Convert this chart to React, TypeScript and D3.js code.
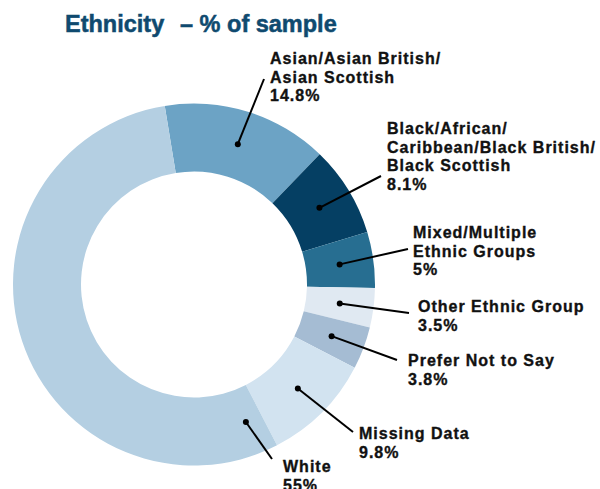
import React from "react";
import * as d3 from "d3";

const categories = [
  "Asian/Asian British/Asian Scottish",
  "Black/African/Caribbean/Black British/Black Scottish",
  "Mixed/Multiple Ethnic Groups",
  "Other Ethnic Group",
  "Prefer Not to Say",
  "Missing Data",
  "White",
];
const values = [14.8, 8.1, 5, 3.5, 3.8, 9.8, 55];
const valueLabels = ["14.8%", "8.1%", "5%", "3.5%", "3.8%", "9.8%", "55%"];
const labelLines = [
  ["Asian/Asian British/", "Asian Scottish"],
  ["Black/African/", "Caribbean/Black British/", "Black Scottish"],
  ["Mixed/Multiple", "Ethnic Groups"],
  ["Other Ethnic Group"],
  ["Prefer Not to Say"],
  ["Missing Data"],
  ["White"],
];
const colors = ["#6ca3c5", "#053f63", "#276e91", "#e0e9f2", "#a5bcd3", "#d2e3f0", "#b4cfe2"];

// label layout: text anchor (first baseline) and leader end point
const labelLayout = [
  { x: 270, y: 64, lx: 264, ly: 79 },
  { x: 387, y: 134, lx: 381, ly: 176 },
  { x: 413, y: 238, lx: 408, ly: 249 },
  { x: 418, y: 312, lx: 409, ly: 313 },
  { x: 408, y: 366, lx: 397, ly: 360 },
  { x: 359, y: 439, lx: 353, ly: 432 },
  { x: 283, y: 472, lx: 272, ly: 459 },
];
// dot position as fraction within slice (0.5 = centroid)
const dotFraction = [0.5, 0.5, 0.5, 0.5, 0.5, 0.5, 0.0335];

const W = 600;
const H = 489;
const cx = 194;
const cy = 284.5;
const rOuter = 181;
const rInner = 113;
const startDeg = -9.3;
const lineH = 18.5;

export default function App() {
  const pie = d3
    .pie<number>()
    .sort(null)
    .value((d) => d)
    .startAngle((startDeg * Math.PI) / 180)
    .endAngle((startDeg * Math.PI) / 180 + 2 * Math.PI);
  const arcs = pie(values);
  const arc = d3.arc<d3.PieArcDatum<number>>().innerRadius(rInner).outerRadius(rOuter);
  const rMid = (rInner + rOuter) / 2;

  const font = "'Liberation Sans', Arial, sans-serif";

  return (
    <svg width={W} height={H} style={{ position: "absolute", left: 0, top: 0 }}>
      <rect width={W} height={H} fill="#ffffff" />
      <text
        x={65}
        y={32}
        fontFamily={font}
        fontWeight="bold"
        fontSize={23.5}
        fill="#0f4a6f"
        stroke="#0f4a6f"
        strokeWidth={0.5}
      >
        <tspan>Ethnicity</tspan>
        <tspan x={180}>– % of sample</tspan>
      </text>
      <g transform={`translate(${cx},${cy})`}>
        {arcs.map((a, i) => (
          <path key={categories[i]} d={arc(a) || ""} fill={colors[i]} />
        ))}
      </g>
      {arcs.map((a, i) => {
        const ang = a.startAngle + (a.endAngle - a.startAngle) * dotFraction[i];
        const dx = cx + rMid * Math.sin(ang);
        const dy = cy - rMid * Math.cos(ang);
        const L = labelLayout[i];
        const lines = [...labelLines[i], valueLabels[i]];
        return (
          <g key={"lab" + i}>
            <line x1={dx} y1={dy} x2={L.lx} y2={L.ly} stroke="#000" strokeWidth={2} />
            <circle cx={dx} cy={dy} r={3} fill="#000" />
            <text
              x={L.x}
              y={L.y}
              fontFamily={font}
              fontWeight="bold"
              fontSize={16}
              letterSpacing={1}
              fill="#111"
              stroke="#111"
              strokeWidth={0.35}
            >
              {lines.map((t, j) => (
                <tspan key={j} x={L.x} y={L.y + j * lineH}>
                  {t}
                </tspan>
              ))}
            </text>
          </g>
        );
      })}
    </svg>
  );
}
